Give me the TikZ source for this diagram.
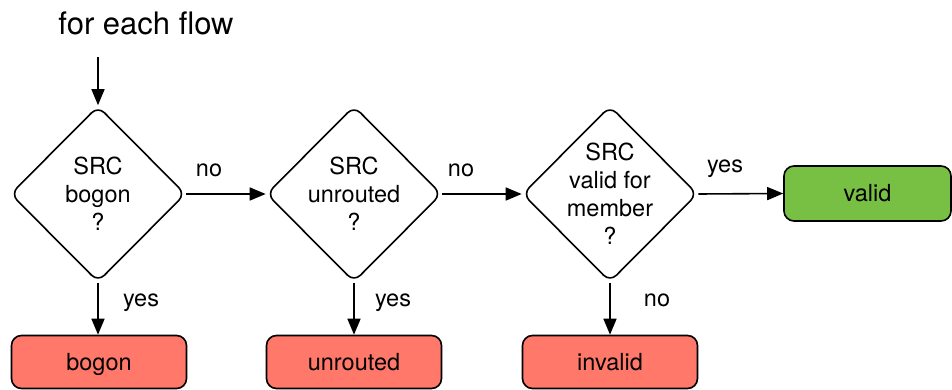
\documentclass[tikz,border=0pt]{standalone}
\usepackage{fontspec}
\setmainfont{TeX Gyre Heros}
\usetikzlibrary{shapes.geometric,arrows.meta}
\definecolor{stopred}{HTML}{FF786A}
\definecolor{goodgreen}{HTML}{77C043}
\tikzset{
  base/.style={line width=1.6pt, draw=black},
  decision/.style={base, diamond, minimum width=175pt, minimum height=176pt,
    inner sep=-40pt, rounded corners=9pt, align=center,
    font=\fontsize{23.5}{28}\selectfont},
  outcome/.style={base, rectangle, rounded corners=10pt, minimum width=175pt,
    minimum height=53pt, inner sep=0pt, text height=16.5pt, text depth=0pt,
    font=\fontsize{23.5}{28}\selectfont},
  flow/.style={line width=1.6pt, -{Triangle[length=16pt,width=13pt]}},
  edgelabel/.style={font=\fontsize{23.5}{28}\selectfont, inner sep=0pt, anchor=base}
}
\begin{document}
\begin{tikzpicture}[x=1pt,y=-1pt]
\useasboundingbox (0,0) rectangle (952,390);

% entry text and start of the flow
\node[anchor=base, inner sep=0pt, font=\fontsize{31}{37}\selectfont] (title) at (146,35) {for each flow};
\coordinate (start) at (98,57);

% decisions
\node[decision] (d1) at (98,194) {SRC\\bogon\\?};
\node[decision] (d2) at (354,194) {SRC\\unrouted\\?};
\node[decision] (d3) at (610,194) {SRC\\valid for\\member\\?};

% outcomes
\node[outcome, fill=stopred] (bogon) at (99,362) {bogon};
\node[outcome, fill=stopred] (unrouted) at (354,362) {unrouted};
\node[outcome, fill=stopred] (invalid) at (610,362) {invalid};
\node[outcome, fill=goodgreen, minimum width=167pt, minimum height=55pt] (valid) at (867.5,193.5) {valid};

% connectors
\draw[flow] (start) -- (d1.north);
\draw[flow] (d1.east) -- (d2.west);
\draw[flow] (d2.east) -- (d3.west);
\draw[flow] (d3.east) -- (valid.west);
\draw[flow] (d1.south) -- (d1.south |- bogon.north);
\draw[flow] (d2.south) -- (d2.south |- unrouted.north);
\draw[flow] (d3.south) -- (d3.south |- invalid.north);

% branch labels
\node[edgelabel] (l1) at (209,177) {no};
\node[edgelabel] (l2) at (461,177) {no};
\node[edgelabel] (l3) at (725,173) {yes};
\node[edgelabel] (l4) at (141,306) {yes};
\node[edgelabel] (l5) at (393,306) {yes};
\node[edgelabel] (l6) at (657,306) {no};
\end{tikzpicture}
\end{document}
